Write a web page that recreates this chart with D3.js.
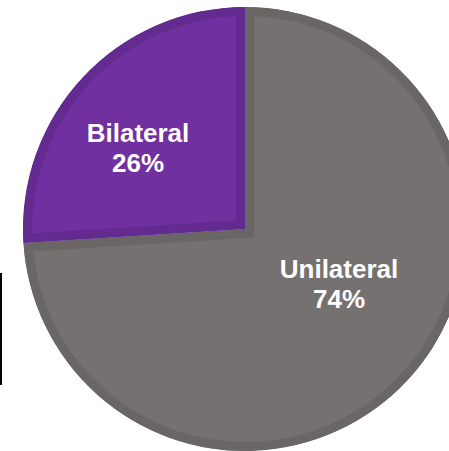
<!DOCTYPE html>
<html><head><meta charset="utf-8">
<script src="https://cdn.jsdelivr.net/npm/d3@7"></script>
<style>html,body{margin:0;padding:0;background:#fff;overflow:hidden}</style>
</head><body>
<svg id="chart" width="449" height="451"></svg>
<script>
const categories = ["Unilateral", "Bilateral"];
const values = [74, 26];
const fills = ["#767171", "#7030A0"];
const edges = ["#6a6666", "#632a8f"];

const svg = d3.select("#chart");
const cx = 245, cy = 229, r = 222, border = 9;

// thin black line at the left edge
svg.append("line").attr("x1", 1).attr("x2", 1).attr("y1", 273).attr("y2", 385)
  .attr("stroke", "#000").attr("stroke-width", 2);

const pie = d3.pie().sort(null).startAngle(0).endAngle(2 * Math.PI)(values);
const arc = d3.arc().innerRadius(0).outerRadius(r);
const g = svg.append("g").attr("transform", `translate(${cx},${cy})`);

const defs = svg.append("defs");
pie.forEach((d, i) => {
  defs.append("clipPath").attr("id", "clip" + i).append("path").attr("d", arc(d));
});

g.selectAll("path.slice").data(pie).join("path")
  .attr("class", "slice")
  .attr("d", arc)
  .attr("fill", (d, i) => fills[i])
  .attr("stroke", (d, i) => edges[i])
  .attr("stroke-width", border * 2)
  .attr("stroke-linejoin", "miter")
  .attr("clip-path", (d, i) => `url(#clip${i})`);

const labelOffsets = [[94, 54], [-107, -82]];
const labels = g.selectAll("g.lbl").data(pie).join("g").attr("class", "lbl")
  .attr("transform", (d, i) => `translate(${labelOffsets[i][0]},${labelOffsets[i][1]})`);
labels.append("text").attr("text-anchor", "middle").attr("y", -5)
  .attr("font-family", "Liberation Sans, Arial, sans-serif").attr("font-weight", "bold")
  .attr("font-size", 26).attr("fill", "#fff")
  .text((d, i) => categories[i]);
labels.append("text").attr("text-anchor", "middle").attr("y", 25)
  .attr("font-family", "Liberation Sans, Arial, sans-serif").attr("font-weight", "bold")
  .attr("font-size", 26).attr("fill", "#fff")
  .text((d, i) => values[i] + "%");
</script>
</body></html>
